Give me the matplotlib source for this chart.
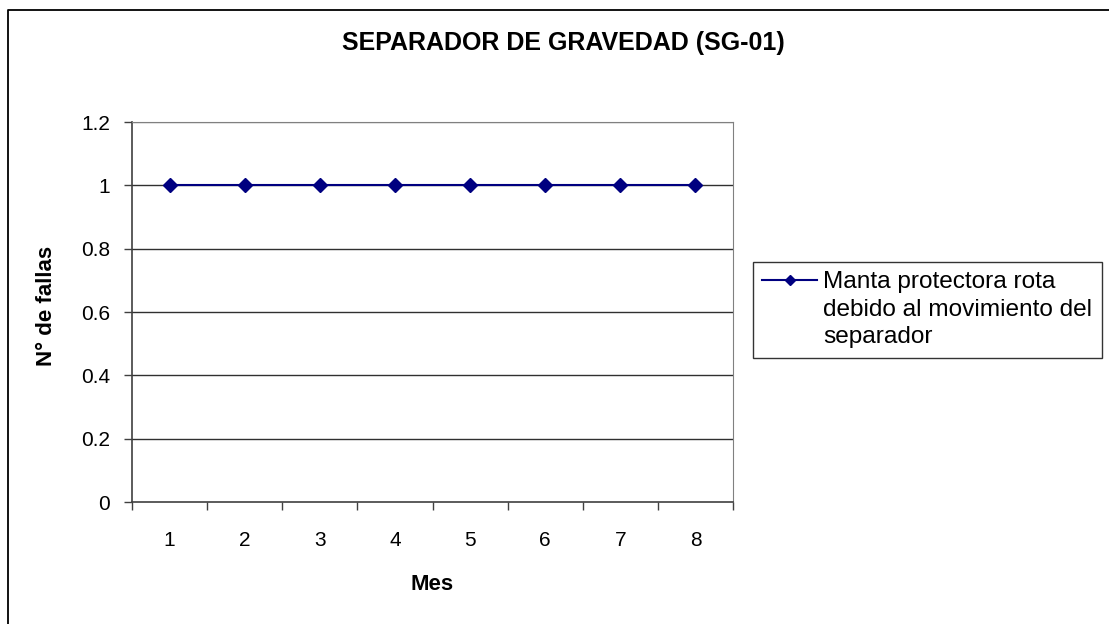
import matplotlib
matplotlib.use("Agg")
import matplotlib.pyplot as plt
from matplotlib.lines import Line2D

plt.rcParams['font.family'] = ['Liberation Sans', 'DejaVu Sans']

months = ['1', '2', '3', '4', '5', '6', '7', '8']
fallas = [1, 1, 1, 1, 1, 1, 1, 1]
yticks = [0, 0.2, 0.4, 0.6, 0.8, 1, 1.2]
ytick_labels = ['0', '0.2', '0.4', '0.6', '0.8', '1', '1.2']
series_label_lines = ['Manta protectora rota', 'debido al movimiento del', 'separador']

W, H = 1109, 624
fig = plt.figure(figsize=(W / 100, H / 100), dpi=100)
fig.patch.set_facecolor('white')

# outer chart border (only left and top edges are inside the image)
fig.lines.append(Line2D([7.5 / W, 7.5 / W, 1.0], [0.0, 1 - 9.5 / H, 1 - 9.5 / H],
                        transform=fig.transFigure, color='black', linewidth=1.3))

ax = fig.add_axes([132 / W, 1 - 502 / H, (733 - 132) / W, (502 - 122) / H])
x = list(range(len(months)))
line, = ax.plot(x, fallas, color='#000080', linewidth=1.5, marker='D', markersize=7,
                markerfacecolor='#000080', markeredgecolor='#000080',
                label=' '.join(series_label_lines), zorder=3)

ax.set_xlim(-0.5, len(months) - 0.5)
ax.set_ylim(0, 1.2)
ax.set_yticks(yticks)
ax.set_yticklabels(ytick_labels)
ax.set_xticks(x)
ax.set_xticklabels(months)
ax.set_xticks([i - 0.5 for i in range(len(months) + 1)], minor=True)
ax.tick_params(axis='x', which='major', length=0, pad=21, labelsize=15)
ax.tick_params(axis='x', which='minor', length=6, width=1, color='#404040', direction='out')
ax.tick_params(axis='y', length=6, width=1, color='#404040', direction='out', pad=10, labelsize=15)

for yv in yticks[1:]:
    ax.axhline(yv, color='#808080' if yv == 1.2 else '#303030', linewidth=1.0, zorder=0)

ax.spines['left'].set_color('#404040')
ax.spines['bottom'].set_color('#404040')
ax.spines['left'].set_linewidth(1.2)
ax.spines['bottom'].set_linewidth(1.2)
ax.spines['right'].set_color('#808080')
ax.spines['top'].set_color('#808080')

ax.set_xlabel('Mes', fontsize=16, fontweight='bold', labelpad=17)
ax.set_ylabel('N° de fallas', fontsize=16, fontweight='bold', labelpad=17)
ax.yaxis.label.set_y((502 - 306) / 380)

fig.text(563 / W, 1 - 43 / H, 'SEPARADOR DE GRAVEDAD (SG-01)', fontsize=18,
         fontweight='bold', ha='center', va='center')

# legend: handle beside the first line of the wrapped label
blank = Line2D([], [], linestyle='none', marker='')
leg = ax.legend([line, blank, blank], series_label_lines,
                loc='upper left', bbox_to_anchor=(753 / W, 1 - 262 / H),
                bbox_transform=fig.transFigure, borderaxespad=0, fontsize=17.6,
                frameon=True, fancybox=False, edgecolor='black', borderpad=0.38,
                handlelength=2.25, handletextpad=0.25, labelspacing=0.22,
                markerscale=0.75)
leg.get_frame().set_linewidth(1.0)

fig.savefig('out.png', dpi=100)
